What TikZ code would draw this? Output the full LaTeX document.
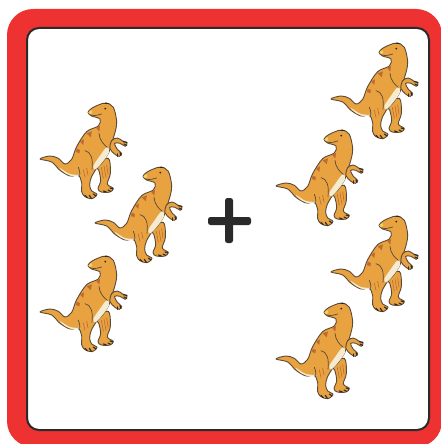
\documentclass[tikz,border=0pt]{standalone}
\definecolor{framered}{HTML}{EE3232}
\definecolor{framedark}{HTML}{2B2A2B}
\definecolor{dinoskin}{HTML}{E8A240}
\definecolor{dinoline}{HTML}{5B4A38}
\definecolor{dinostripe}{HTML}{BF6A33}
\definecolor{dinobelly}{HTML}{F5EBD0}
\definecolor{dinoclaw}{HTML}{2E2722}
\definecolor{dinosnout}{HTML}{F2D25A}
\tikzset{
  redframe/.style={fill=framered,draw=none,rounded corners=26pt},
  innerframe/.style={fill=white,draw=framedark,line width=2pt,rounded corners=12pt},
  plusbar/.style={fill=framedark,draw=none,rounded corners=2.5pt},
  dinobody/.style={fill=dinoskin,draw=dinoline,line width=0.9pt,line join=round},
  dinomark/.style={fill=dinostripe,draw=none},
  dinofold/.style={draw=dinoline,line width=0.7pt,line cap=round},
  dinopale/.style={fill=dinobelly,draw=none},
  dinostrip/.style={draw=dinostripe,line width=0.6pt,line cap=round},
  dinoclawmark/.style={draw=dinoclaw,line width=1.1pt,line cap=round},
  dino/.pic={
    \begin{scope}[x=0.3333pt,y=-0.3333pt]
    % far leg
    \path[dinobody] plot[smooth cycle,tension=0.55] coordinates {
      (195,225)(235,205)(241,250)(232,282)(250,295)(240,306)(214,306)(204,296)(212,272)(206,240)};
    % body
    \path[dinobody] plot[smooth cycle,tension=0.55] coordinates {
      (174,67)(185,55)(205,45)(228,39)(250,52)(260,93)(257,120)(250,144)(244,165)(235,190)
      (215,220)(200,235)(184,262)(179,285)(185,303)(201,313)(186,326)(165,320)(155,305)
      (155,278)(145,256)(120,258)(90,241)(65,216)(30,207)(60,198)(85,205)(105,222)(125,208)
      (140,170)(170,125)(205,108)(210,87)(185,78)};
    % near arm
    \path[dinobody] plot[smooth cycle,tension=0.55] coordinates {
      (245,152)(262,144)(278,153)(291,159)(286,169)(270,160)(254,160)(262,178)(275,190)(268,199)(255,193)(240,176)};
    % pale belly and tail underside
    \path[dinopale] plot[smooth cycle,tension=0.6] coordinates {
      (230,172)(237,187)(216,218)(196,238)(190,228)(208,200)};
    \path[dinopale] plot[smooth cycle,tension=0.6] coordinates {
      (90,234)(120,252)(150,254)(145,258)(118,256)(96,242)};
    % snout
    \path[fill=dinosnout] (175,67) -- (184,60) -- (187,68) -- (181,73) -- cycle;
    % back marks
    \path[dinomark] (198,113) -- (210,108) -- (208,125) -- cycle;
    \path[dinomark] (170,130) -- (186,124) -- (182,142) -- cycle;
    \path[dinomark] (150,155) -- (162,148) -- (160,165) -- cycle;
    \path[dinomark] (140,176) -- (150,180) -- (148,190) -- (138,186) -- cycle;
    % folds
    \draw[dinofold] (181,75) .. controls (195,78) and (205,76) .. (215,72);
    \draw[dinofold] (207,130) .. controls (208,150) and (222,165) .. (232,172);
    \draw[dinofold] (165,182) .. controls (182,185) and (190,205) .. (186,238);
    \draw[dinofold] (145,232) .. controls (150,245) and (152,255) .. (146,258);
    \draw[dinostrip] (214,232) -- (220,265);
    \draw[dinostrip] (222,228) -- (228,262);
    \draw[dinostrip] (230,224) -- (234,252);
    \draw[dinostrip] (160,240) -- (165,262);
    \draw[dinostrip] (170,235) -- (174,255);
    % eye
    \path[fill=dinoclaw] (226,56) circle (3);
    \path[fill=dinoclaw] (220,41) -- (240,42) -- (230,38) -- cycle;
    % claws
    \draw[dinoclawmark] (280,155) -- (291,157);
    \draw[dinoclawmark] (282,162) -- (290,166);
    \draw[dinoclawmark] (262,192) -- (262,199);
    \draw[dinoclawmark] (270,188) -- (273,196);
    \draw[dinoclawmark] (165,316) -- (172,323);
    \draw[dinoclawmark] (178,316) -- (184,325);
    \draw[dinoclawmark] (190,312) -- (198,318);
    \draw[dinoclawmark] (220,303) -- (228,305);
    \draw[dinoclawmark] (234,300) -- (242,304);
    \draw[dinoclawmark] (240,294) -- (249,297);
    \end{scope}
  }
}
\begin{document}
\begin{tikzpicture}[x=1pt,y=-1pt]
\useasboundingbox (0,0) rectangle (440,444);
\path[fill=white] (0,0) rectangle (440,444);
\path[redframe] (7,9) rectangle (442,447);
\path[innerframe] (27,28) rectangle (429,430);
\path[plusbar] (208,217) rectangle (251,225);
\path[plusbar] (225,198) rectangle (233,243);
\pic at (30,90) {dino};
\pic at (85,154) {dino};
\pic at (30,243) {dino};
\pic at (321,30) {dino};
\pic at (266,117) {dino};
\pic at (321,203) {dino};
\pic at (266,290) {dino};
\end{tikzpicture}
\end{document}
